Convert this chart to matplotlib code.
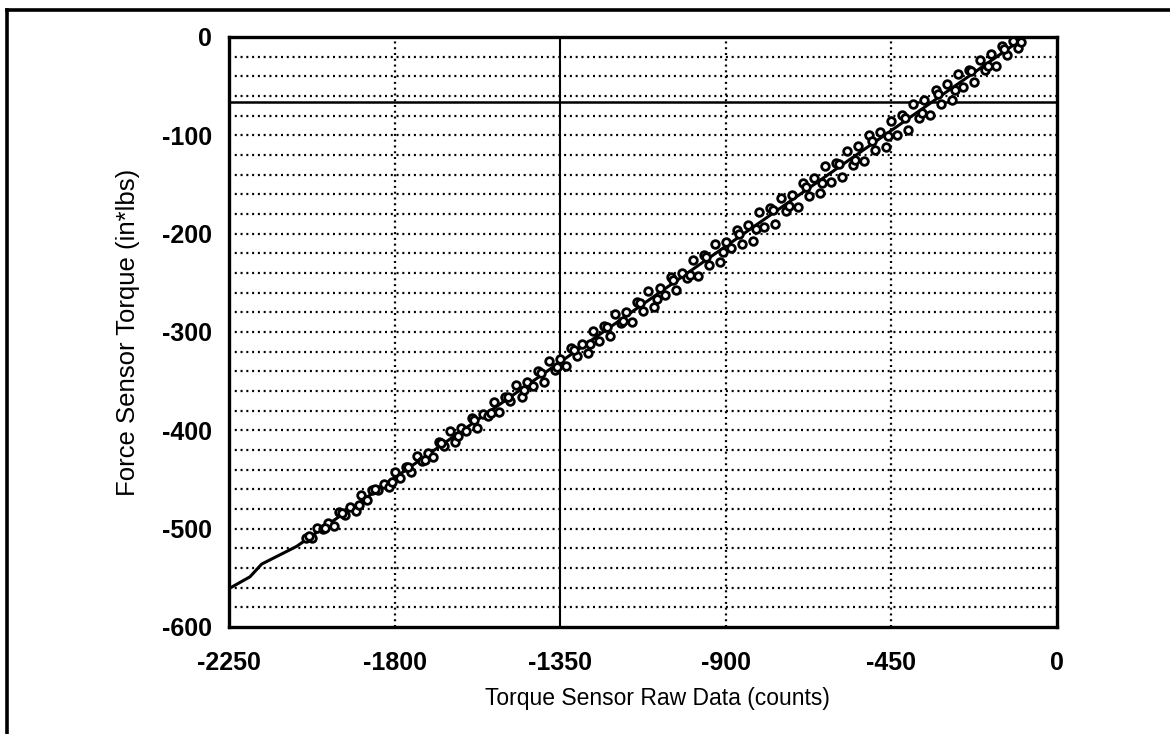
import matplotlib
matplotlib.use("Agg")
import matplotlib.pyplot as plt
from matplotlib.lines import Line2D
import numpy as np

# Fit line (raw counts -> torque)
fit_x = [-2250, -2193, -2161, -2066, -87]
fit_y = [-561, -549, -536, -518, 0]

# Measured points, loading pass (upper side), x from -2040 to -120 every 30
up_x = list(range(-2040, -119, 30))
up_y = [-509, -499, -494, -483, -478, -466, -461, -455, -442, -437,
        -426, -423, -412, -401, -398, -387, -383, -371, -366, -354,
        -351, -340, -329, -327, -316, -312, -299, -294, -282, -280,
        -269, -258, -255, -244, -240, -227, -222, -211, -208, -196,
        -191, -178, -174, -164, -161, -148, -143, -131, -128, -116,
        -111, -100, -97, -85, -79, -68, -64, -54, -48, -38,
        -34, -23, -17, -9, -4]

# Measured points, unloading pass (lower side), x from -2025 to -105 every 30
lo_x = list(range(-2025, -104, 30))
lo_y = [-510, -500, -497, -486, -482, -471, -461, -458, -448, -442,
        -431, -427, -416, -412, -401, -398, -385, -381, -370, -366,
        -355, -351, -339, -335, -324, -321, -309, -304, -291, -290,
        -279, -275, -262, -257, -245, -243, -232, -229, -215, -211,
        -207, -193, -190, -177, -173, -162, -159, -147, -142, -130,
        -126, -115, -112, -100, -95, -82, -79, -68, -64, -51,
        -46, -34, -29, -18, -11]

# Measured points, repeat pass (near the fit), x from -2033 to -98 every 45
mid_x = list(range(-2033, -97, 45))
mid_y = [-507, -499, -484, -476, -460, -453, -437, -430, -413, -406,
         -389, -382, -366, -359, -342, -336, -318, -312, -295, -289,
         -271, -266, -247, -242, -224, -219, -200, -195, -176, -172,
         -153, -148, -129, -125, -106, -101, -82, -77, -58, -54,
         -35, -30, -12, -5]

x_ticks = [-2250, -1800, -1350, -900, -450, 0]
y_ticks = [0, -100, -200, -300, -400, -500, -600]

plt.rcParams["font.family"] = ["Liberation Sans", "DejaVu Sans"]

fig = plt.figure(figsize=(11.7, 7.34), dpi=100)
ax = fig.add_axes([0.1957, 0.1458, 0.7077, 0.8038])

dots = (0, (0.9, 1.7))
for y in np.arange(-580, 0, 20):
    ax.axhline(y, color="black", lw=1.6, ls=dots, zorder=1)
for x in [-1800, -900, -450]:
    ax.axvline(x, color="black", lw=1.6, ls=dots, zorder=1)
ax.axvline(-1350, color="black", lw=1.5, zorder=1)
ax.axhline(-66, color="black", lw=1.8, zorder=1)

ax.plot(fit_x, fit_y, "-", color="black", lw=2.2, zorder=3)
for xs, ys in [(up_x, up_y), (lo_x, lo_y), (mid_x, mid_y)]:
    ax.plot(xs, ys, "o", mfc="white", mec="black", ms=5.5, mew=2.0, zorder=4)

ax.set_xlim(-2250, 0)
ax.set_ylim(-600, 0)
ax.set_xticks(x_ticks)
ax.set_yticks(y_ticks)
ax.set_xticklabels([str(v) for v in x_ticks], fontsize=18, fontweight="bold")
ax.set_yticklabels([str(v) for v in y_ticks], fontsize=18, fontweight="bold")
ax.tick_params(axis="x", length=0, pad=17)
ax.tick_params(axis="y", length=0, pad=12)
for s in ax.spines.values():
    s.set_linewidth(2.4)

ax.set_xlabel("Torque Sensor Raw Data (counts)", fontsize=16.5, labelpad=9, x=0.517)
ax.set_ylabel("Force Sensor Torque (in*lbs)", fontsize=18.5, labelpad=16)

# outer frame (left and top edges)
fig.add_artist(Line2D([7 / 1170, 7 / 1170], [0, 1 - 10 / 734], color="black", lw=2.6))
fig.add_artist(Line2D([7 / 1170, 1], [1 - 10 / 734, 1 - 10 / 734], color="black", lw=2.6))

fig.savefig("out.png", dpi=100)
